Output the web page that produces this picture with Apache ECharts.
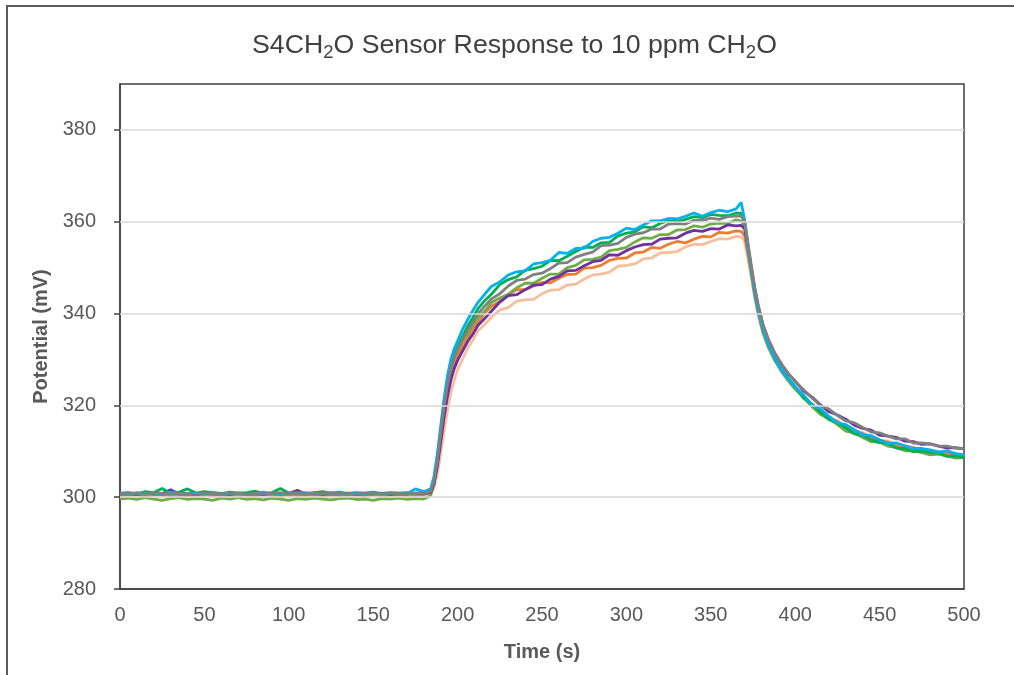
<!DOCTYPE html>
<html>
<head>
<meta charset="utf-8">
<script src="https://cdn.jsdelivr.net/npm/echarts@6/dist/echarts.min.js"></script>
<style>
html,body{margin:0;padding:0;background:#fff;}
#c{width:1014px;height:675px;}
</style>
</head>
<body>
<div id="c"></div>
<script>
// Time points (s)
const timeS = [0,5,10,15,20,25,30,35,40,45,50,55,60,65,70,75,80,85,90,95,100,105,110,115,120,125,130,135,140,145,150,155,160,165,170,175,180,
  184,186,188,190,192,194,196,198,200,203,206,209,212,216,
  220,225,230,235,240,245,250,255,260,265,270,275,280,285,290,295,300,305,310,315,320,325,330,335,340,345,350,355,360,365,
  368,370,372,374,376,378,381,384,388,392,396,
  400,405,410,415,420,425,430,435,440,445,450,455,460,465,470,475,480,485,490,495,500];

const blueMv = [300.8,300.6,301.0,300.7,300.9,300.5,301.1,300.8,300.6,300.9,300.7,301.0,300.6,300.8,300.9,300.5,300.8,301.1,300.7,300.6,300.9,300.8,301.0,300.6,300.7,301.0,300.8,300.5,300.9,300.7,301.0,300.6,300.8,300.9,300.7,301.8,301.2,
  301.8,304.5,309.5,315.5,321.5,326.5,330.0,332.3,334.0,336.6,338.7,340.6,342.4,344.2,
  345.9,346.9,348.4,349.1,349.3,350.8,351.1,351.6,353.3,353.1,354.2,354.2,355.7,356.4,356.6,357.5,358.6,358.3,359.3,360.2,360.2,360.7,360.6,361.2,361.9,361.2,362.0,362.5,362.2,362.8,
  364.2,360.5,354.5,349.5,344.5,340.8,336.3,333.2,330.0,327.6,325.7,
  324.0,322.2,320.1,319.2,317.6,316.2,315.8,314.7,313.6,313.4,312.5,311.7,311.8,311.2,310.6,310.6,310.3,309.8,310.1,309.5,309.2];

const greenMv = [300.9,301.0,300.7,301.2,301.0,301.9,300.8,301.1,301.8,300.9,301.2,301.0,300.8,301.1,300.9,301.0,301.3,300.8,301.0,301.9,300.9,301.1,300.8,301.0,301.2,300.9,301.1,300.8,301.0,300.9,301.1,300.8,301.0,300.9,301.0,300.8,301.0,
  301.5,303.8,308.5,314.5,320.5,325.2,328.6,331.0,332.8,335.0,337.3,339.1,341.0,342.8,
  344.2,346.3,347.4,348.0,349.4,349.8,350.3,351.6,351.5,352.5,353.5,354.5,354.4,355.4,355.5,356.9,357.5,357.8,358.9,358.7,359.6,360.3,360.0,360.5,361.1,360.9,361.6,361.4,361.3,361.9,
  361.8,360.0,354.8,349.8,344.8,341.0,336.5,333.4,330.2,327.8,325.8,
  324.1,321.6,320.2,318.5,316.9,316.2,315.1,313.8,313.5,312.5,311.9,311.7,310.7,310.6,309.9,310.1,309.7,309.6,308.9,309.0,308.6];

const grayMv = [300.7,300.9,300.8,300.6,301.0,300.8,300.7,300.9,300.8,300.6,300.9,300.8,300.7,300.9,300.8,300.6,300.9,300.7,300.8,301.0,300.7,300.8,300.6,300.9,300.8,300.7,300.9,300.8,300.6,300.9,300.8,300.7,300.9,300.8,300.7,300.9,300.8,
  301.2,303.5,308.0,314.0,319.8,324.5,328.0,330.4,332.2,334.4,336.4,338.1,339.9,341.6,
  343.2,344.3,346.0,347.2,347.5,348.5,348.8,349.8,351.0,351.1,352.3,352.9,353.4,354.8,354.9,355.3,356.6,357.3,357.6,358.4,358.4,359.5,359.6,359.5,360.3,360.3,360.8,360.5,361.1,361.2,
  361.2,360.2,355.5,350.5,345.8,342.0,337.5,334.5,331.3,328.9,326.9,
  325.2,323.4,321.6,319.9,319.2,317.8,316.6,316.2,315.2,314.2,314.0,313.3,312.7,312.7,311.8,311.8,311.6,311.1,311.1,310.7,310.5];

const lightGreenMv = [299.6,299.8,299.5,299.9,299.6,299.3,299.7,299.9,299.5,299.7,299.6,299.3,299.8,299.6,299.9,299.5,299.7,299.4,299.8,299.6,299.3,299.7,299.5,299.8,299.6,299.4,299.7,299.8,299.5,299.6,299.3,299.7,299.6,299.8,299.5,299.7,299.6,
  300.3,303.0,307.5,313.5,319.5,324.2,327.8,330.3,332.0,334.1,335.7,337.6,339.1,340.5,
  342.4,343.4,344.2,345.6,346.6,346.6,347.7,348.6,348.6,350.0,350.5,351.7,351.8,352.3,353.7,354.0,354.4,355.6,356.5,356.4,357.2,357.2,358.2,358.3,359.1,358.8,359.5,359.7,359.6,360.4,
  360.2,359.0,354.3,349.3,344.4,340.5,336.0,332.9,329.8,327.3,325.3,
  323.5,321.7,319.7,318.0,317.1,315.8,314.4,314.0,313.0,312.1,312.0,311.1,310.8,310.1,310.1,309.7,309.2,309.4,309.0,308.5,308.6];

const purpleMv = [300.7,300.8,300.6,300.9,300.7,300.8,301.6,300.7,300.8,300.6,300.9,300.7,300.8,300.6,300.9,300.7,300.8,300.6,300.9,300.7,300.8,301.5,300.7,300.9,300.6,300.8,300.7,300.9,300.6,300.8,300.7,300.9,300.6,300.8,300.7,300.9,300.7,
  301.0,302.8,306.8,312.0,317.5,322.0,325.5,328.0,329.8,331.9,333.9,335.5,337.4,338.9,
  340.5,342.5,343.9,344.1,345.2,346.2,346.3,347.5,348.1,349.3,349.4,350.4,351.3,351.6,352.8,352.7,353.7,354.5,355.0,355.1,356.2,356.4,356.5,357.5,358.1,357.9,358.5,358.4,359.3,359.1,
  359.2,358.5,354.5,350.0,345.5,341.8,337.4,334.4,331.3,328.9,326.8,
  325.3,323.1,321.8,320.1,318.6,317.9,317.0,315.7,315.0,314.6,313.5,313.3,313.0,312.2,312.1,311.5,311.6,311.1,310.7,310.8,310.5];

const orangeMv = [300.4,300.6,300.5,300.3,300.6,300.5,300.4,300.6,300.3,300.5,300.6,300.4,300.5,300.3,300.6,300.5,300.4,300.6,300.5,300.3,300.6,300.4,300.5,300.6,300.3,300.5,300.4,300.6,300.5,300.3,300.6,300.4,300.5,300.6,300.4,300.5,300.6,
  301.5,303.5,307.2,312.5,318.2,322.8,326.5,329.0,330.8,333.0,334.7,336.8,338.1,340.1,
  341.6,342.6,344.2,345.2,345.2,346.0,346.8,346.7,347.7,348.5,348.6,349.9,350.0,350.5,351.6,352.0,352.1,353.2,353.4,354.4,354.2,355.1,355.7,355.4,356.2,356.8,356.7,357.7,357.5,358.0,
  357.9,357.0,353.0,348.5,344.0,340.2,335.8,332.8,329.8,327.4,325.4,
  323.8,321.6,320.3,318.8,317.1,316.5,315.3,314.2,313.9,312.9,312.2,312.0,311.1,310.9,310.7,310.1,310.0,309.5,309.6,309.2,308.9];

const peachMv = [300.2,300.4,300.3,300.1,300.4,300.3,300.2,300.4,300.3,300.1,300.4,300.2,300.3,300.4,300.2,300.3,300.1,300.4,300.3,300.2,300.4,300.3,300.1,300.4,300.2,300.3,300.4,300.2,300.3,300.1,300.4,300.3,300.2,300.4,300.3,300.2,300.3,
  300.6,302.0,305.0,309.5,314.5,319.0,322.8,325.5,327.8,330.1,332.5,334.2,336.2,337.6,
  339.2,340.8,341.3,342.7,343.0,343.1,344.3,345.1,345.2,346.2,346.4,347.5,348.4,348.6,349.0,350.3,350.5,350.8,351.9,352.1,353.2,353.3,353.5,354.5,355.1,355.0,355.7,356.3,356.2,356.8,
  356.7,355.8,352.0,347.8,343.5,339.8,335.5,332.6,329.7,327.4,325.5,
  324.0,321.9,320.0,319.0,317.5,316.6,315.2,314.7,314.0,313.0,312.5,312.2,311.4,311.2,310.9,310.2,310.1,310.0,309.5,309.5,309.2];

const yTickValues = [280,300,320,340,360,380];
const xTickValues = [0,50,100,150,200,250,300,350,400,450,500];

const seriesDefs = [
  {name:'Sensor 7', data: peachMv, color:'#f6bf9c'},
  {name:'Sensor 6', data: orangeMv, color:'#ed7d31'},
  {name:'Sensor 4', data: lightGreenMv, color:'#70ad47'},
  {name:'Sensor 5', data: purpleMv, color:'#7030a0'},
  {name:'Sensor 2', data: greenMv, color:'#00b050'},
  {name:'Sensor 1', data: blueMv, color:'#00b0f0'},
  {name:'Sensor 3', data: grayMv, color:'#808080'}
];

const chart = echarts.init(document.getElementById('c'), null, {renderer:'canvas'});
const FONT = '"Liberation Sans", Arial, sans-serif';

chart.setOption({
  animation: false,
  backgroundColor: '#ffffff',
  graphic: [{
    type: 'rect',
    shape: {x: 7, y: 6, width: 1040, height: 700},
    style: {fill: 'none', stroke: '#5a5a5a', lineWidth: 2},
    silent: true, z: -1
  }],
  title: {
    text: 'S4CH{sub|2}O Sensor Response to 10 ppm CH{sub|2}O',
    left: 252,
    top: 29,
    padding: 0,
    textStyle: {
      fontFamily: FONT, fontSize: 26.7, fontWeight: 'normal', color: '#404040',
      rich: {
        sub: {fontFamily: FONT, fontSize: 18.5, color: '#404040', padding: [14, 0, 0, 0]}
      }
    }
  },
  grid: {
    left: 120, right: 50, top: 84, bottom: 86,
    show: true, borderColor: '#404040', borderWidth: 1.5, backgroundColor: 'transparent'
  },
  xAxis: {
    type: 'value', min: 0, max: 500, interval: 50,
    name: 'Time (s)', nameLocation: 'middle', nameGap: 53,
    nameTextStyle: {fontFamily: FONT, fontSize: 20, fontWeight: 'bold', color: '#595959'},
    axisLine: {show: true, lineStyle: {color: '#404040', width: 1.5}},
    axisTick: {show: false},
    splitLine: {show: false},
    axisLabel: {fontFamily: FONT, fontSize: 20, color: '#595959', margin: 16,
      customValues: xTickValues}
  },
  yAxis: {
    type: 'value', min: 280, max: 390, interval: 10,
    name: 'Potential (mV)', nameLocation: 'middle', nameGap: 69, nameRotate: 90,
    nameTextStyle: {fontFamily: FONT, fontSize: 20, fontWeight: 'bold', color: '#595959'},
    axisLine: {show: true, lineStyle: {color: '#404040', width: 1.5}},
    axisTick: {show: true, inside: false, length: 6, lineStyle: {color: '#404040', width: 1.5},
      customValues: yTickValues},
    splitLine: {show: false},
    axisLabel: {fontFamily: FONT, fontSize: 20, color: '#595959', margin: 24,
      customValues: yTickValues}
  },
  series: [
    {
      type: 'line', silent: true, symbol: 'none', data: [],
      markLine: {
        silent: true, symbol: 'none', label: {show: false},
        lineStyle: {color: '#d9d9d9', width: 1.5, type: 'solid'},
        data: [300,320,340,360,380].map(v => ({yAxis: v}))
      },
      z: 1
    }
  ].concat(seriesDefs.map(s => ({
    name: s.name, type: 'line', symbol: 'none', smooth: false,
    data: timeS.map((t, i) => [t, s.data[i]]),
    lineStyle: {color: s.color, width: 2.8},
    itemStyle: {color: s.color},
    z: 2
  })))
});
</script>
</body>
</html>
